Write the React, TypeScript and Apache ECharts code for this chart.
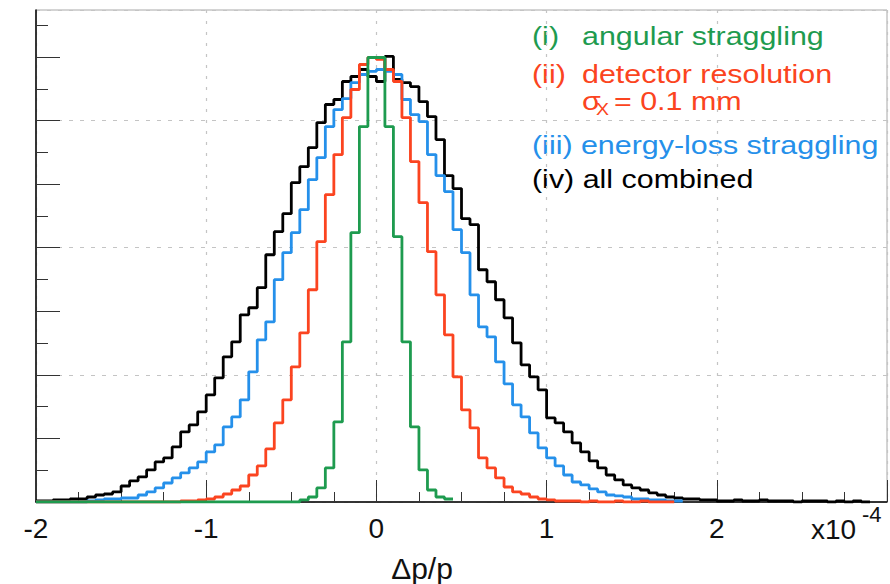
import React, { useEffect, useRef } from "react";
import * as echarts from "echarts";

// Histogram binning (x in units of 1e-4)
const BIN_START = -2;
const BIN_WIDTH = 0.05;

// Bin contents (arbitrary counts), read bin by bin from the picture
const combinedCounts = [
  16, 16, 32, 32, 47, 47, 79, 110, 126, 158,
  252, 331, 394, 504, 630, 693, 866, 1103, 1213, 1418,
  1685, 1953, 2284, 2520, 2945, 3056, 3371, 3890, 4253, 4536,
  5024, 5276, 5576, 5969, 6253, 6332, 6615, 6694, 6804, 6694,
  6615, 7009, 6647, 6599, 6536, 6300, 6064, 5702, 5135, 4930,
  4457, 4363, 3654, 3465, 3182, 2898, 2504, 2158, 1969, 1764,
  1323, 1244, 1103, 929, 788, 646, 536, 425, 347, 268,
  221, 189, 142, 110, 79, 63, 47, 47, 32, 32,
  16, 16, 32, 16, 16, 32, 16, 16, 16, 0,
  16, 16, 16, 0, 16, 0, 16, 0,
];

const energyLossCounts = [
  0, 0, 0, 0, 0, 0, 16, 32, 47, 47,
  63, 63, 110, 158, 221, 299, 378, 457, 536, 630,
  788, 898, 1181, 1339, 1607, 2048, 2552, 2835, 3497, 3922,
  4237, 4599, 5072, 5418, 5906, 6174, 6347, 6599, 6725, 6773,
  6804, 6773, 6725, 6332, 6095, 5985, 5465, 5135, 4883, 4284,
  3922, 3260, 2756, 2599, 2205, 1859, 1528, 1339, 1087, 851,
  693, 567, 425, 315, 268, 205, 158, 110, 95, 79,
  47, 47, 32, 32, 16, 16,
];

const detectorCounts = [
  0, 0, 0, 0, 0, 0, 0, 0, 0, 0,
  0, 0, 0, 0, 0, 0, 0, 16, 16, 32,
  47, 79, 126, 189, 252, 425, 567, 835, 1244, 1607,
  2126, 2662, 3339, 4095, 4835, 5465, 6048, 6489, 6883, 6993,
  6962, 6804, 6615, 6048, 5355, 4709, 3938, 3260, 2630, 1969,
  1449, 1166, 693, 536, 378, 236, 158, 126, 79, 47,
  32, 16, 16, 16, 0, 16, 0, 0, 16, 0,
  0, 16, 0, 0, 0,
];

const angularCounts = [
  0, 0, 0, 0, 0, 0, 0, 0, 0, 0,
  0, 0, 0, 0, 0, 0, 0, 0, 0, 0,
  0, 0, 0, 0, 0, 0, 0, 0, 0, 0,
  0, 32, 79, 221, 536, 1260, 2520, 4237, 5906, 6993,
  6993, 5906, 4174, 2520, 1181, 504, 189, 79, 47,
];

const X_MIN = -2;
const X_MAX = 3;
const Y_MAX = 7740;
const yMajorTicks = [0, 1000, 2000, 3000, 4000, 5000, 6000, 7000];
const yMinorTicks = [500, 1500, 2500, 3500, 4500, 5500, 6500, 7500];

const GREEN = "#1e9b4f";
const RED = "#fb4420";
const BLUE = "#2590ea";
const BLACK = "#000000";

const FONT = '"Liberation Sans", Arial, Helvetica, sans-serif';

function histPoints(counts: number[]): number[][] {
  const pts = counts.map((c, i) => [
    Math.round((BIN_START + i * BIN_WIDTH) * 1000) / 1000,
    c,
  ]);
  pts.push([
    Math.round((BIN_START + counts.length * BIN_WIDTH) * 1000) / 1000,
    counts[counts.length - 1],
  ]);
  return pts;
}

function histSeries(name: string, counts: number[], color: string) {
  return {
    name,
    type: "line",
    step: "end",
    yAxisIndex: 0,
    showSymbol: false,
    symbol: "none",
    data: histPoints(counts),
    lineStyle: { color, width: 2.8 },
    itemStyle: { color },
    silent: true,
  };
}

function legendText(text: string, x: number, y: number, color: string, size = 26, scaleX = 1.17) {
  return {
    type: "text",
    x,
    y,
    scaleX,
    silent: true,
    style: {
      text,
      fill: color,
      font: `${size}px ${FONT}`,
      align: "left",
      verticalAlign: "middle",
    },
  };
}

export default function App() {
  const ref = useRef<HTMLDivElement | null>(null);

  useEffect(() => {
    if (!ref.current) return;
    const chart = echarts.init(ref.current, undefined, { renderer: "svg" });
    const tickColor = "#333";
    const option: any = {
      animation: false,
      backgroundColor: "#ffffff",
      grid: {
        left: 36,
        right: 3,
        top: 10,
        bottom: 82,
        show: true,
        borderColor: "#a8a8a8",
        borderWidth: 1,
        backgroundColor: "transparent",
      },
      xAxis: {
        type: "value",
        min: X_MIN,
        max: X_MAX,
        interval: 1,
        axisLine: { show: true, onZero: false, lineStyle: { color: "#000", width: 1.5 } },
        axisTick: { show: true, inside: true, length: 22, lineStyle: { color: tickColor, width: 1 } },
        minorTick: { show: true, splitNumber: 4, length: 10, lineStyle: { color: tickColor, width: 1 } },
        splitLine: { show: true, lineStyle: { color: "#c4c4c4", width: 1.2, type: [3, 8] } },
        axisLabel: {
          show: true,
          fontSize: 28,
          fontFamily: FONT,
          color: "#111",
          margin: 12,
          formatter: (v: number) => (v >= X_MAX ? "" : String(v)),
        },
      },
      yAxis: [
        {
          type: "value",
          min: 0,
          max: Y_MAX,
          interval: 2000,
          position: "left",
          axisLine: { show: true, onZero: false, lineStyle: { color: "#000", width: 1.5 } },
          axisTick: { show: false },
          axisLabel: { show: false },
          splitLine: { show: true, lineStyle: { color: "#c4c4c4", width: 1.2, type: [4, 7] } },
        },
        {
          type: "value",
          min: 0,
          max: Y_MAX,
          interval: 1000,
          position: "left",
          offset: 0,
          axisLine: { show: false, onZero: false },
          axisTick: {
            show: true,
            inside: true,
            length: 24,
            customValues: yMajorTicks,
            lineStyle: { color: tickColor, width: 1 },
          },
          axisLabel: { show: false },
          splitLine: { show: false },
        },
        {
          type: "value",
          min: 0,
          max: Y_MAX,
          interval: 500,
          position: "left",
          offset: 0,
          axisLine: { show: false, onZero: false },
          axisTick: {
            show: true,
            inside: true,
            length: 12,
            customValues: yMinorTicks,
            lineStyle: { color: tickColor, width: 1 },
          },
          axisLabel: { show: false },
          splitLine: { show: false },
        },
      ],
      series: [
        histSeries("(iv) all combined", combinedCounts, BLACK),
        histSeries("(iii) energy-loss straggling", energyLossCounts, BLUE),
        histSeries("(ii) detector resolution", detectorCounts, RED),
        histSeries("(i) angular straggling", angularCounts, GREEN),
      ],
      graphic: [
        legendText("(i)", 532, 36, GREEN),
        legendText("angular straggling", 582, 36, GREEN),
        legendText("(ii)", 532, 74, RED),
        legendText("detector resolution", 582, 74, RED),
        legendText("\u03c3", 582, 101, RED),
        legendText("X", 596, 109, RED, 17, 1.15),
        legendText("= 0.1 mm", 614, 101, RED),
        legendText("(iii) energy-loss straggling", 532, 145, BLUE),
        legendText("(iv) all combined", 532, 179, BLACK),
        {
          type: "text",
          x: 422,
          y: 568,
          silent: true,
          style: { text: "\u0394p/p", fill: "#111", font: `30px ${FONT}`, align: "center", verticalAlign: "middle" },
        },
        {
          type: "text",
          x: 811,
          y: 529,
          silent: true,
          style: { text: "x10", fill: "#111", font: `28px ${FONT}`, align: "left", verticalAlign: "middle" },
        },
        {
          type: "text",
          x: 862,
          y: 514,
          silent: true,
          style: { text: "-4", fill: "#111", font: `22px ${FONT}`, align: "left", verticalAlign: "middle" },
        },
      ],
    };
    chart.setOption(option);
    return () => {
      chart.dispose();
    };
  }, []);

  return (
    <div
      ref={ref}
      style={{ position: "absolute", left: 0, top: 0, width: 890, height: 584, background: "#fff" }}
    />
  );
}
